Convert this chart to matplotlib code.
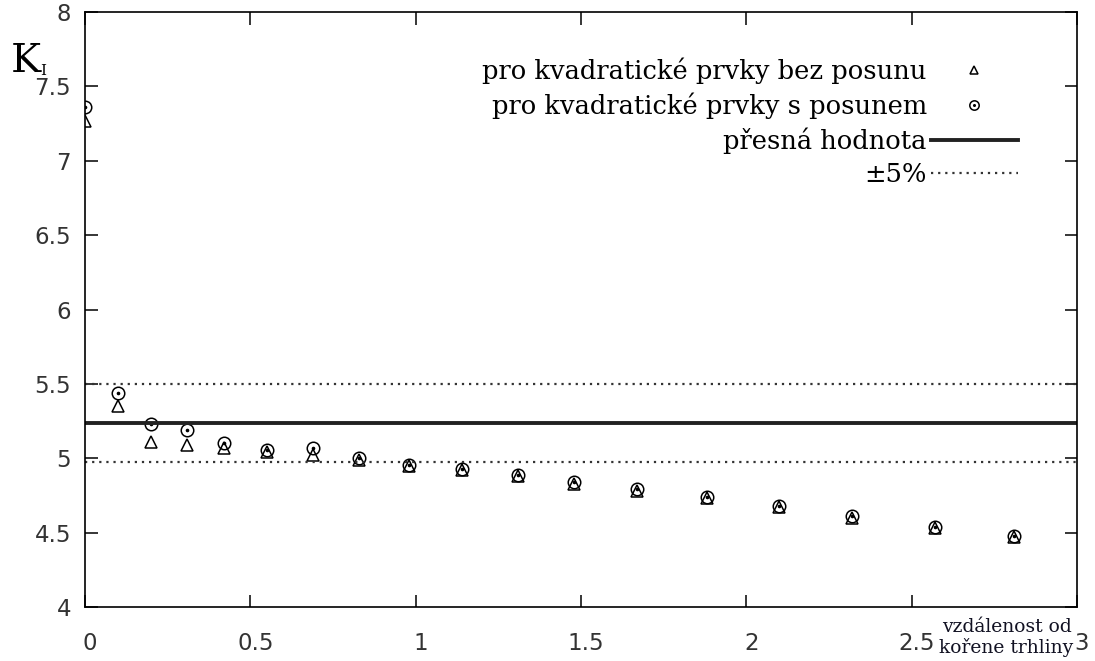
import matplotlib
matplotlib.use('Agg')
import matplotlib.pyplot as plt
import matplotlib.transforms as mtransforms
from matplotlib.legend_handler import HandlerTuple

# vzdálenost od kořene trhliny
x = [0.0, 0.10, 0.20, 0.31, 0.42, 0.55, 0.69, 0.83, 0.98, 1.14,
     1.31, 1.48, 1.67, 1.88, 2.10, 2.32, 2.57, 2.81]
# K_I pro kvadratické prvky bez posunu
k_bez = [7.27, 5.35, 5.11, 5.09, 5.07, 5.04, 5.02, 4.99, 4.95, 4.92,
         4.88, 4.83, 4.78, 4.73, 4.67, 4.60, 4.53, 4.47]
# K_I pro kvadratické prvky s posunem
k_s = [7.36, 5.44, 5.23, 5.19, 5.10, 5.055, 5.07, 5.00, 4.955, 4.93,
       4.89, 4.84, 4.79, 4.74, 4.68, 4.61, 4.54, 4.48]
k_presna = 5.24
tol = 0.05

xticks = [0, 0.5, 1, 1.5, 2, 2.5, 3]
yticks = [4, 4.5, 5, 5.5, 6, 6.5, 7, 7.5, 8]

fig = plt.figure(figsize=(10.95, 6.61), dpi=100)
ax = fig.add_axes([0.0776, 0.0817, 0.906, 0.9001])

h_bez, = ax.plot(x, k_bez, linestyle='none', marker='^', markersize=8,
                 markerfacecolor='none', markeredgecolor='black', markeredgewidth=1.1)
h_s, = ax.plot(x, k_s, linestyle='none', marker='o', markersize=9,
               markerfacecolor='none', markeredgecolor='black', markeredgewidth=1.1)
h_dot, = ax.plot(x, k_s, linestyle='none', marker='o', markersize=1.6,
                 color='black')

h_presna = ax.axhline(k_presna, color='#222222', linewidth=2.8)
h_tol = ax.axhline(k_presna * (1 + tol), color='#333333', linewidth=1.6,
                   linestyle=(0, (1, 2.2)))
ax.axhline(k_presna * (1 - tol), color='#333333', linewidth=1.6,
           linestyle=(0, (1, 2.2)))

ax.set_xlim(0, 3)
ax.set_ylim(4, 8)
ax.set_xticks(xticks)
ax.set_yticks(yticks)
ax.set_xticklabels(['0', '0.5', '1', '1.5', '2', '2.5', '3'])
ax.set_yticklabels(['4', '4.5', '5', '5.5', '6', '6.5', '7', '7.5', '8'])
ax.tick_params(direction='in', length=9, width=1.1, top=True, right=True,
               labelsize=16.5, labelcolor='#333333')
ax.tick_params(axis='x', pad=18)
ax.tick_params(axis='y', pad=10)
for s in ax.spines.values():
    s.set_linewidth(1.2)

# popisky osy x jsou v originale trochu posunute doprava
posun = mtransforms.ScaledTranslation(5 / 100, 0, fig.dpi_scale_trans)
for lbl in ax.get_xticklabels():
    lbl.set_transform(lbl.get_transform() + posun)

leg = ax.legend([h_bez, (h_s, h_dot), h_presna, h_tol],
                ['pro kvadratické prvky bez posunu', 'pro kvadratické prvky s posunem',
                 'přesná hodnota', '±5%'],
                handler_map={tuple: HandlerTuple(ndivide=1)},
                loc='upper right', bbox_to_anchor=(0.9405, 0.923), borderaxespad=0,
                borderpad=0, frameon=False, markerfirst=False, markerscale=0.75,
                handlelength=3.4, handletextpad=0.15, labelspacing=0.32,
                prop={'family': 'DejaVu Serif', 'size': 18.5})

fig.text(0.010, 0.891, 'K', family='DejaVu Serif', fontsize=29)
fig.text(0.037, 0.8866, 'I', family='DejaVu Serif', fontsize=11)

ax.text(0.929, -0.019, 'vzdálenost od\nkořene trhliny', transform=ax.transAxes,
        ha='center', va='top', family='DejaVu Serif', fontsize=13.5,
        linespacing=1.1, color='#111122')

fig.savefig('out.png', dpi=100)
